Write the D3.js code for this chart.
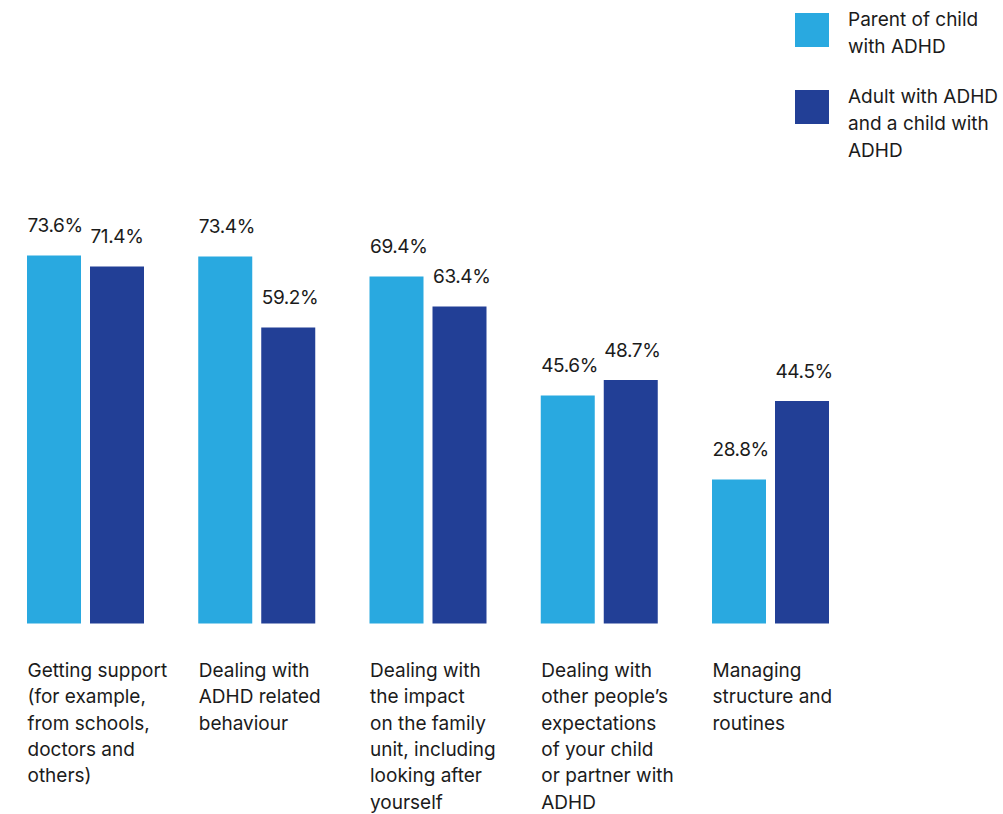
<!DOCTYPE html>
<html>
<head>
<meta charset="utf-8">
<script src="https://cdn.jsdelivr.net/npm/d3@7"></script>
<style>
  html, body { margin: 0; padding: 0; background: #fff; }
  svg { display: block; font-family: Inter, "Liberation Sans", Arial, sans-serif; }
</style>
</head>
<body>
<svg id="chart" width="1003" height="814"></svg>
<script>
const categories = [
  "Getting support (for example, from schools, doctors and others)",
  "Dealing with ADHD related behaviour",
  "Dealing with the impact on the family unit, including looking after yourself",
  "Dealing with other people’s expectations of your child or partner with ADHD",
  "Managing structure and routines"
];
const categoryLines = [
  ["Getting support", "(for example,", "from schools,", "doctors and", "others)"],
  ["Dealing with", "ADHD related", "behaviour"],
  ["Dealing with", "the impact", "on the family", "unit, including", "looking after", "yourself"],
  ["Dealing with", "other people’s", "expectations", "of your child", "or partner with", "ADHD"],
  ["Managing", "structure and", "routines"]
];
const seriesNames = ["Parent of child with ADHD", "Adult with ADHD and a child with ADHD"];
const legendLines = [["Parent of child", "with ADHD"], ["Adult with ADHD", "and a child with", "ADHD"]];
const parentValues = [73.6, 73.4, 69.4, 45.6, 28.8];
const adultValues = [71.4, 59.2, 63.4, 48.7, 44.5];
const colors = ["#29a9e0", "#223f96"];

const svg = d3.select("#chart");
const textColor = "#1b1b1b";

const x0 = d3.scaleBand().domain(categories).range([27, 27 + 5 * 171.25]).padding(0);
const x1 = d3.scaleBand().domain(seriesNames).range([0, 117]).paddingInner(9 / 63).paddingOuter(0);
const y = d3.scaleLinear().domain([0, 100]).range([623.5, 123.5]);

const data = categories.map((c, i) => ({
  cat: c, i,
  vals: [
    { s: seriesNames[0], v: parentValues[i], k: 0 },
    { s: seriesNames[1], v: adultValues[i], k: 1 }
  ]
}));

const g = svg.selectAll("g.grp").data(data).join("g")
  .attr("class", "grp")
  .attr("transform", d => `translate(${x0(d.cat)},0)`);

g.selectAll("rect").data(d => d.vals).join("rect")
  .attr("x", d => x1(d.s))
  .attr("y", d => y(d.v))
  .attr("width", x1.bandwidth())
  .attr("height", d => y(0) - y(d.v))
  .attr("fill", d => colors[d.k]);

g.selectAll("text.val").data(d => d.vals).join("text")
  .attr("class", "val")
  .attr("x", d => x1(d.s) + 0.5)
  .attr("y", d => y(d.v) - 23.5)
  .attr("fill", textColor)
  .attr("font-size", 19)
  .attr("letter-spacing", -0.4)
  .text(d => d.v.toFixed(1) + "%");

// category labels
g.append("text")
  .attr("class", "cat")
  .attr("fill", textColor)
  .attr("font-size", 19)
  .attr("letter-spacing", 0)
  .selectAll("tspan").data(d => categoryLines[d.i]).join("tspan")
  .attr("x", 0.5)
  .attr("y", (d, j) => 677 + j * 26.3)
  .text(d => d);

// legend
const leg = svg.selectAll("g.leg").data(seriesNames).join("g")
  .attr("class", "leg")
  .attr("transform", (d, i) => `translate(795,${13 + i * 77})`);
leg.append("rect").attr("width", 34).attr("height", 34).attr("fill", (d, i) => colors[i]);
leg.append("text")
  .attr("fill", textColor)
  .attr("font-size", 19)
  .attr("letter-spacing", 0)
  .selectAll("tspan").data((d, i) => legendLines[i]).join("tspan")
  .attr("x", 53)
  .attr("y", (d, j) => 13 + j * 26.8)
  .text(d => d);
</script>
</body>
</html>
